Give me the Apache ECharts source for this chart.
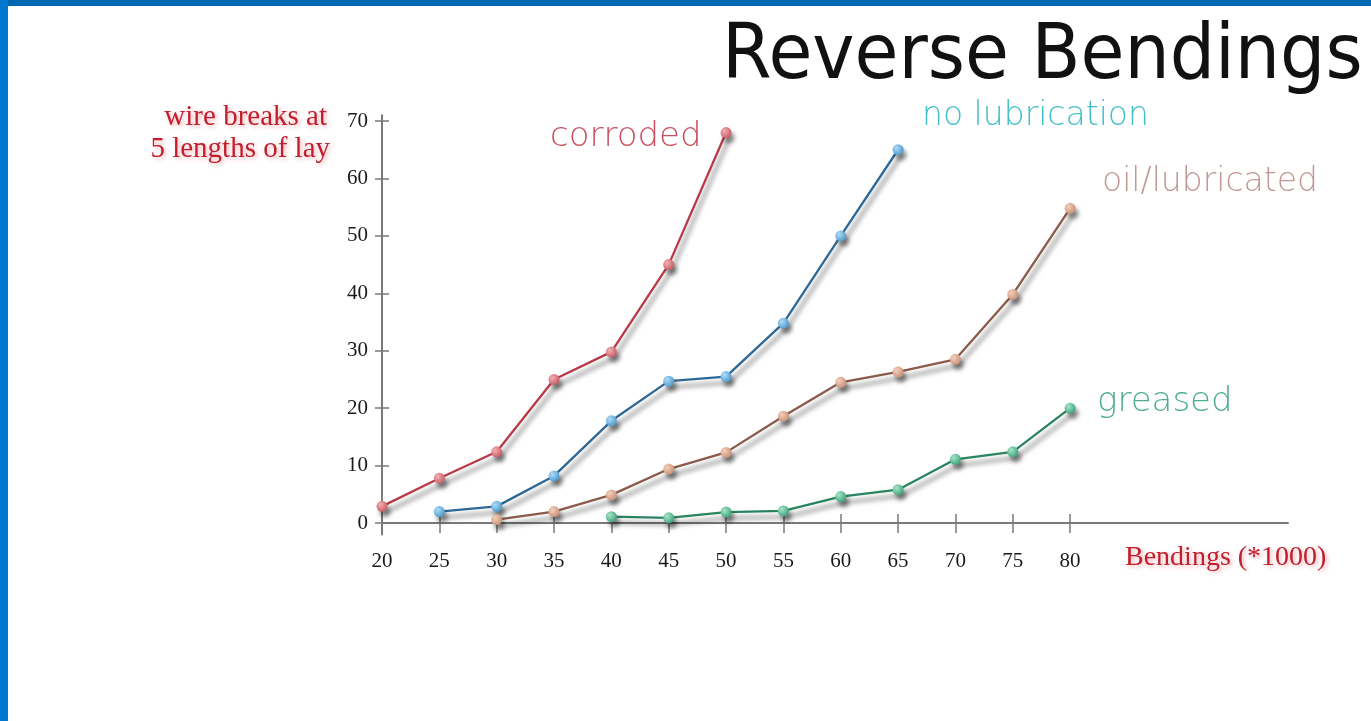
<!DOCTYPE html>
<html>
<head>
<meta charset="utf-8">
<script src="https://cdn.jsdelivr.net/npm/echarts@6/dist/echarts.min.js"></script>
<style>
  html, body { margin: 0; padding: 0; background: #fff; }
  #chart { position: absolute; left: 0; top: 0; width: 1371px; height: 721px; }
  #bt { position: absolute; left: 0; top: 0; width: 1371px; height: 6px; background: #0067b3; }
  #bl { position: absolute; left: 0; top: 0; width: 8px; height: 721px; background: #0078cf; }
</style>
</head>
<body>
<div id="chart"></div>
<div id="bt"></div>
<div id="bl"></div>
<script>
// ---- data ----
var bendings = [20, 25, 30, 35, 40, 45, 50, 55, 60, 65, 70, 75, 80];
var corroded = [2.9, 7.8, 12.4, 25, 29.8, 45, 68, null, null, null, null, null, null];
var noLubrication = [null, 2, 2.9, 8.2, 17.8, 24.7, 25.5, 34.8, 50, 65, null, null, null];
var oilLubricated = [null, null, 0.6, 2, 4.9, 9.4, 12.3, 18.6, 24.5, 26.3, 28.5, 39.8, 54.8];
var greased = [null, null, null, null, 1.1, 0.9, 1.9, 2.1, 4.6, 5.8, 11.1, 12.4, 20];
var yTicks = [0, 10, 20, 30, 40, 50, 60, 70];
var xTicks = bendings;

function pairs(vals) {
  var out = [];
  for (var i = 0; i < bendings.length; i++) {
    if (vals[i] !== null) out.push([bendings[i], vals[i]]);
  }
  return out;
}

function mkSeries(name, vals, lineColor, hi, lo) {
  return {
    name: name,
    type: 'line',
    xAxisIndex: 0,
    yAxisIndex: 0,
    data: pairs(vals),
    symbol: 'circle',
    symbolSize: 11,
    lineStyle: {
      color: lineColor,
      width: 2.3,
      shadowColor: 'rgba(0,0,0,0.55)',
      shadowBlur: 5,
      shadowOffsetX: 3,
      shadowOffsetY: 6
    },
    itemStyle: {
      color: {
        type: 'radial', x: 0.35, y: 0.35, r: 0.7,
        colorStops: [{ offset: 0, color: hi }, { offset: 1, color: lo }]
      },
      borderWidth: 0,
      shadowColor: 'rgba(0,0,0,0.45)',
      shadowBlur: 4,
      shadowOffsetX: 3,
      shadowOffsetY: 5
    },
    emphasis: { disabled: true },
    z: 3
  };
}

var axisGrey = '#7a7a7a';
var serif = '"Liberation Serif", "Times New Roman", serif';
var thin = '"DejaVu Sans", sans-serif';
var redShadow = { textShadowColor: 'rgba(235,120,130,0.6)', textShadowBlur: 4, textShadowOffsetX: 2, textShadowOffsetY: 2 };

function redText(txt, x, y, align, size) {
  return { type: 'text', x: x, y: y, z: 10, style: Object.assign({
    text: txt, fill: '#c0202e', font: size + 'px ' + serif, textAlign: align, textVerticalAlign: 'middle' }, redShadow) };
}
function note(txt, x, y, color, size) {
  return { type: 'text', x: x, y: y, z: 10, style: {
    text: txt, fill: color, font: '200 ' + size + 'px ' + thin, textAlign: 'left', textVerticalAlign: 'middle' } };
}

var chart = echarts.init(document.getElementById('chart'), null, { renderer: 'canvas' });
chart.setOption({
  backgroundColor: '#ffffff',
  animation: false,
  grid: { left: 382, right: 83, top: 115.3, bottom: 186.5, containLabel: false },
  xAxis: [
    {
      type: 'value', min: 20, max: 99, position: 'bottom',
      axisLine: { onZero: true, lineStyle: { color: axisGrey, width: 2 } },
      axisTick: { show: true, inside: false, length: 10, customValues: xTicks, lineStyle: { color: axisGrey, width: 1.5 } },
      axisLabel: { customValues: xTicks, color: '#1a1a1a', fontFamily: serif, fontSize: 21, margin: 16 },
      splitLine: { show: false }
    },
    {
      type: 'value', min: 20, max: 99, position: 'bottom',
      axisLine: { onZero: true, show: false },
      axisTick: { show: true, inside: true, length: 9, customValues: xTicks, lineStyle: { color: axisGrey, width: 1.5 } },
      axisLabel: { show: false },
      splitLine: { show: false }
    }
  ],
  yAxis: [
    {
      type: 'value', min: -2, max: 71, position: 'left',
      axisLine: { show: true, onZero: true, lineStyle: { color: axisGrey, width: 2 } },
      axisTick: { show: true, inside: false, length: 7, customValues: yTicks, lineStyle: { color: axisGrey, width: 1.5 } },
      axisLabel: { customValues: yTicks, color: '#1a1a1a', fontFamily: serif, fontSize: 21, margin: 14 },
      splitLine: { show: false }
    },
    {
      type: 'value', min: -2, max: 71, position: 'left',
      axisLine: { show: false },
      axisTick: { show: true, inside: true, length: 7, customValues: yTicks, lineStyle: { color: axisGrey, width: 1.5 } },
      axisLabel: { show: false },
      splitLine: { show: false }
    }
  ],
  series: [
    mkSeries('corroded', corroded, '#b83a48', '#f4b0b4', '#c85a64'),
    mkSeries('no lubrication', noLubrication, '#2e6896', '#b0dcf6', '#4d98cc'),
    mkSeries('oil/lubricated', oilLubricated, '#8a5a4a', '#f4d0bc', '#c89078'),
    mkSeries('greased', greased, '#2a8460', '#a8e4c8', '#3ca47c')
  ],
  graphic: [
    { type: 'text', x: 722, y: 20, z: 10, scaleX: 0.86, scaleY: 0.92, style: {
        text: 'Reverse Bendings', fill: '#111', font: '83px "DejaVu Sans", sans-serif',
        textAlign: 'left', textVerticalAlign: 'top',
        shadowColor: 'rgba(0,0,0,0.5)', shadowBlur: 6, shadowOffsetX: 4, shadowOffsetY: 5 } },
    note('corroded', 550, 137, '#c8505e', 34),
    note('no lubrication', 922, 116, '#45c0c8', 33),
    note('oil/lubricated', 1102, 182, '#c09896', 33),
    note('greased', 1097, 402, '#4eae8e', 34),
    redText('wire breaks at', 327, 117, 'right', 29),
    redText('5 lengths of lay', 330, 149, 'right', 29),
    redText('Bendings (*1000)', 1125, 558, 'left', 28)
  ]
});
</script>
</body>
</html>
